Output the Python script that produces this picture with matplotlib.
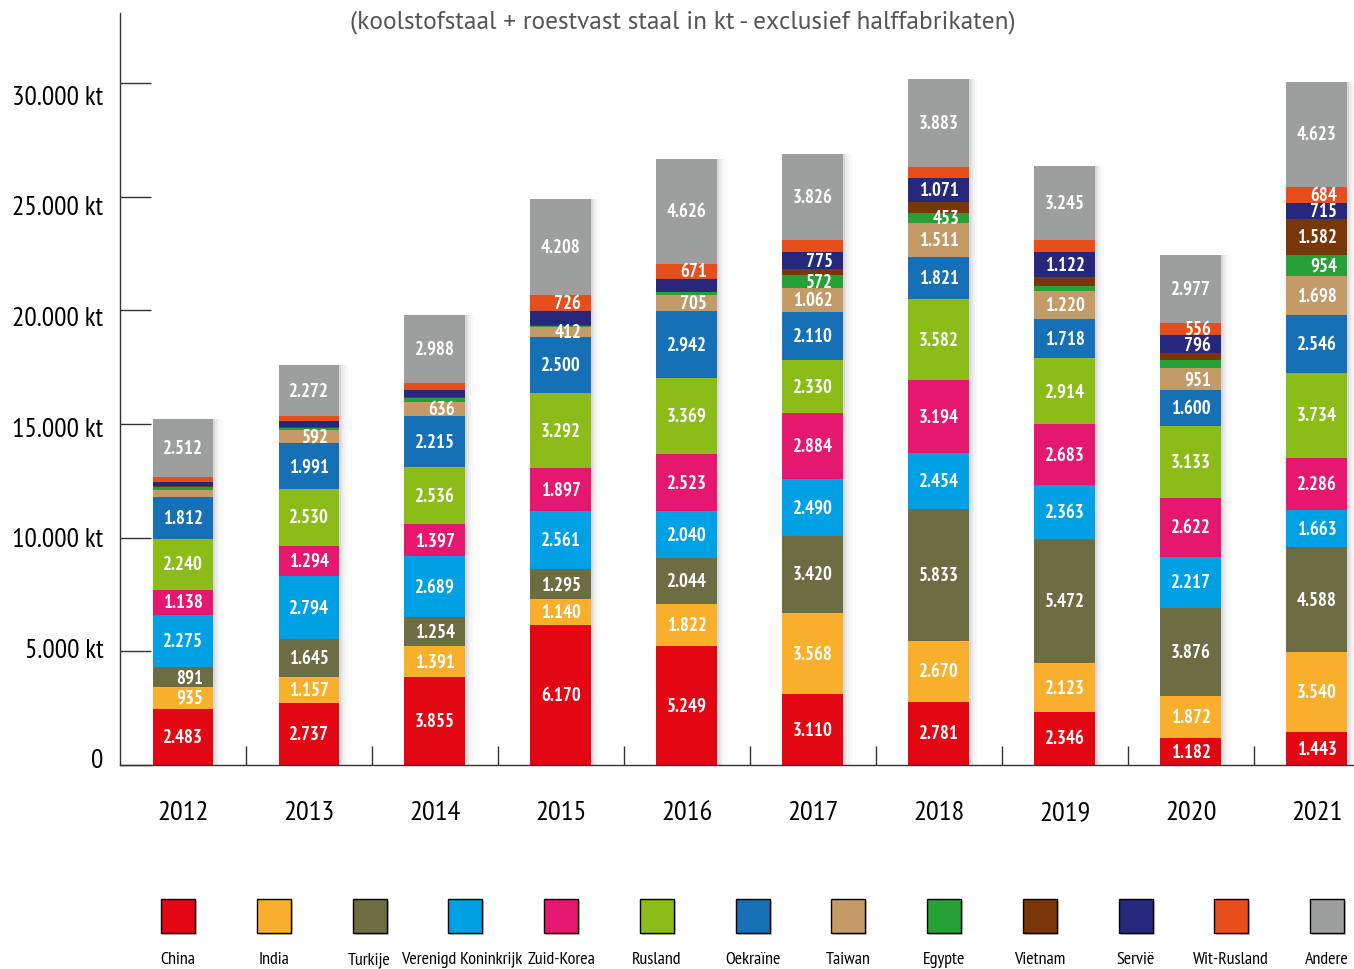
import matplotlib.pyplot as plt
from matplotlib.patches import Rectangle
from matplotlib.transforms import ScaledTranslation

NARROW = ['PT Sans Narrow', 'DejaVu Sans']
REGULAR = ['PT Sans', 'DejaVu Sans']

# data (kt), stacked bottom -> top
years = [2012, 2013, 2014, 2015, 2016, 2017, 2018, 2019, 2020, 2021]
countries = ["China", "India", "Turkije", "Verenigd Koninkrijk", "Zuid-Korea", "Rusland",
             "Oekraïne", "Taiwan", "Egypte", "Vietnam", "Servië", "Wit-Rusland", "Andere"]
colors = ["#e30613", "#f8b02c", "#6d6d43", "#00a1e4", "#e5176f", "#8cbc17",
          "#1570b6", "#c49a66", "#26a136", "#7a3608", "#27287c", "#e84e1a", "#9d9e9e"]

china = [2483, 2737, 3855, 6170, 5249, 3110, 2781, 2346, 1182, 1443]
india = [935, 1157, 1391, 1140, 1822, 3568, 2670, 2123, 1872, 3540]
turkije = [891, 1645, 1254, 1295, 2044, 3420, 5833, 5472, 3876, 4588]
vk = [2275, 2794, 2689, 2561, 2040, 2490, 2454, 2363, 2217, 1663]
zuid_korea = [1138, 1294, 1397, 1897, 2523, 2884, 3194, 2683, 2622, 2286]
rusland = [2240, 2530, 2536, 3292, 3369, 2330, 3582, 2914, 3133, 3734]
oekraine = [1812, 1991, 2215, 2500, 2942, 2110, 1821, 1718, 1600, 2546]
taiwan = [330, 592, 636, 412, 705, 1062, 1511, 1220, 951, 1698]
egypte = [110, 90, 170, 70, 110, 572, 453, 220, 350, 954]
vietnam = [60, 40, 30, 40, 20, 260, 480, 400, 310, 1582]
servie = [170, 250, 320, 580, 560, 775, 1071, 1122, 796, 715]
wit_rusland = [250, 220, 320, 726, 671, 500, 470, 530, 556, 684]
andere = [2512, 2272, 2988, 4208, 4626, 3826, 3883, 3245, 2977, 4623]

series = [china, india, turkije, vk, zuid_korea, rusland, oekraine,
          taiwan, egypte, vietnam, servie, wit_rusland, andere]

# segments without a printed value in the original
unlabeled = {
    "Taiwan": [2012],
    "Egypte": [2012, 2013, 2014, 2015, 2016, 2019, 2020],
    "Vietnam": [2012, 2013, 2014, 2015, 2016, 2017, 2018, 2019, 2020],
    "Servië": [2012, 2013, 2014, 2015, 2016],
    "Wit-Rusland": [2012, 2013, 2014, 2017, 2018, 2019],
}

yticks = [0, 5000, 10000, 15000, 20000, 25000, 30000]


def fmt(v):
    return f"{v:,}".replace(",", ".")


fig = plt.figure(figsize=(13.54, 9.70), dpi=100)
ax = fig.add_axes([120 / 1354, 204 / 970, 1 - 120 / 1354, 752 / 970])

x = list(range(len(years)))
width = 0.484
totals = [sum(s[i] for s in series) for i in x]

# soft shadow on the right of each bar
for off, a in [(0.01, 0.06), (0.025, 0.045), (0.045, 0.03), (0.065, 0.02)]:
    ax.bar([i + off for i in x], totals, width=width, color="black", alpha=a,
           zorder=1, linewidth=0)

bottom = [0] * len(years)
for name, vals, col in zip(countries, series, colors):
    ax.bar(x, vals, width=width, bottom=bottom, color=col, zorder=2, linewidth=0)
    for i, v in enumerate(vals):
        if years[i] in unlabeled.get(name, []):
            continue
        dx = 0.055 if v < 1000 else 0.0
        ax.text(i + dx, bottom[i] + v / 2, fmt(v), ha="center", va="center",
                color="white", fontsize=13.5, fontweight="bold", family=NARROW, zorder=3)
    bottom = [b + v for b, v in zip(bottom, vals)]

ax.set_xlim(-0.5, 9.294)
ax.set_ylim(0, 33090)

for s in ["top", "right"]:
    ax.spines[s].set_visible(False)
for s in ["left", "bottom"]:
    ax.spines[s].set_color("#333333")
    ax.spines[s].set_linewidth(1.0)

ax.set_yticks(yticks)
ax.set_yticklabels(["0"] + [fmt(t) + " kt" for t in yticks[1:]], family=NARROW, fontsize=19.8)
ax.tick_params(axis="y", direction="in", length=22, width=1, color="#333333", pad=12)
# the original's labels sit a bit off their tick lines (lower at the top, higher at 0)
for t, lab in zip(yticks, ax.get_yticklabels()):
    shift = (-7 + 18 * t / 30000) / 100
    lab.set_transform(lab.get_transform() + ScaledTranslation(0, -shift, fig.dpi_scale_trans))

ax.set_xticks(x)
ax.set_xticklabels([str(y) for y in years], family=NARROW, fontsize=20.5)
ax.tick_params(axis="x", which="major", length=0, pad=25)
ax.set_xticks([i + 0.5 for i in x[:-1]], minor=True)
ax.tick_params(axis="x", which="minor", direction="in", length=14, width=1, color="#333333")

fig.text(683 / 1354, 1 - 22 / 970,
         "(koolstofstaal + roestvast staal in kt - exclusief halffabrikaten)",
         ha="center", va="center", fontsize=18.2, color="#555555", family=REGULAR)

# legend row
W, H = 1354, 970
for k, (name, col) in enumerate(zip(countries, colors)):
    cx = 178 + 95.75 * k
    fig.patches.append(Rectangle(((cx - 17 + 2) / W, (H - 936) / H), 34 / W, 34 / H,
                                 transform=fig.transFigure, facecolor="#c8c8c8",
                                 edgecolor="none", zorder=1))
    fig.patches.append(Rectangle(((cx - 17) / W, (H - 934) / H), 34 / W, 34 / H,
                                 transform=fig.transFigure, facecolor=col,
                                 edgecolor="black", linewidth=1, zorder=2))
    lx = 462 if name == "Verenigd Koninkrijk" else cx
    fig.text(lx / W, (H - 960) / H, name, ha="center", va="center",
             fontsize=13, family=NARROW)

fig.savefig("out.png", dpi=100)
